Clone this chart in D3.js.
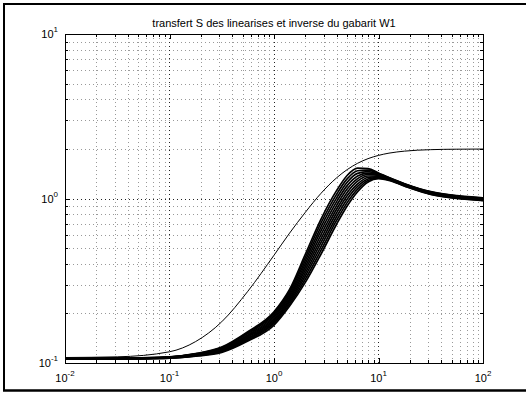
<!DOCTYPE html>
<html><head><meta charset="utf-8">
<script src="https://cdn.jsdelivr.net/npm/d3@7"></script>
<style>
body{margin:0;background:#fff}
svg{display:block}
text{font-family:"Liberation Sans",Arial,Helvetica,sans-serif;fill:#000}
</style>
</head><body>
<svg id="chart" width="526" height="397"></svg>
<script>
// ---------- data ----------
const title = "transfert S des linearises et inverse du gabarit W1";
const xTickValues = [0.01, 0.1, 1, 10, 100];
const xTickExponents = ["-2", "-1", "0", "1", "2"];
const yTickValues = [0.1, 1, 10];
const yTickExponents = ["-1", "0", "1"];

// frequencies (rad/s) shared by all curves
const freqs = [0.01, 0.0316, 0.1, 0.178, 0.316, 0.562, 1, 1.41, 2, 2.82, 3.98, 5.01, 6.31, 7.94, 10, 12.6, 17.8, 31.6, 56.2, 100];

// inverse of the W1 template
const w1Inverse = [0.108, 0.109, 0.117, 0.135, 0.178, 0.273, 0.452, 0.616, 0.826, 1.076, 1.337, 1.498, 1.637, 1.747, 1.828, 1.887, 1.941, 1.981, 1.994, 1.998];

// sensitivity S of the linearised systems
const sCurve0 = [0.1065, 0.1070, 0.1090, 0.1140, 0.125, 0.155, 0.205, 0.280, 0.460, 0.750, 1.120, 1.380, 1.530, 1.520, 1.430, 1.340, 1.230, 1.100, 1.040, 1.010];
const sCurve1 = [0.1064, 0.1069, 0.1088, 0.1136, 0.124, 0.153, 0.201, 0.273, 0.440, 0.710, 1.063, 1.316, 1.475, 1.489, 1.417, 1.334, 1.226, 1.096, 1.036, 1.006];
const sCurve2 = [0.1063, 0.1067, 0.1086, 0.1131, 0.123, 0.151, 0.197, 0.266, 0.421, 0.673, 1.009, 1.255, 1.422, 1.458, 1.405, 1.329, 1.221, 1.091, 1.031, 1.001];
const sCurve3 = [0.1062, 0.1066, 0.1083, 0.1127, 0.122, 0.148, 0.193, 0.259, 0.403, 0.637, 0.958, 1.197, 1.371, 1.428, 1.392, 1.323, 1.217, 1.087, 1.027, 0.997];
const sCurve4 = [0.1061, 0.1065, 0.1081, 0.1122, 0.121, 0.146, 0.189, 0.253, 0.386, 0.603, 0.909, 1.141, 1.321, 1.399, 1.380, 1.318, 1.212, 1.082, 1.022, 0.992];
const sCurve5 = [0.1060, 0.1063, 0.1079, 0.1118, 0.120, 0.144, 0.185, 0.246, 0.370, 0.571, 0.863, 1.088, 1.274, 1.370, 1.368, 1.312, 1.208, 1.078, 1.018, 0.988];
const sCurve6 = [0.1059, 0.1062, 0.1077, 0.1113, 0.119, 0.142, 0.181, 0.240, 0.354, 0.541, 0.819, 1.038, 1.228, 1.342, 1.356, 1.307, 1.203, 1.073, 1.013, 0.983];
const sCurve7 = [0.1058, 0.1061, 0.1075, 0.1109, 0.118, 0.140, 0.177, 0.234, 0.339, 0.512, 0.777, 0.990, 1.184, 1.314, 1.344, 1.301, 1.199, 1.069, 1.009, 0.979];
const sCurve8 = [0.1056, 0.1059, 0.1072, 0.1104, 0.117, 0.138, 0.174, 0.228, 0.324, 0.485, 0.738, 0.944, 1.141, 1.287, 1.332, 1.296, 1.194, 1.064, 1.004, 0.974];
const sCurve9 = [0.1055, 0.1058, 0.1070, 0.1100, 0.116, 0.136, 0.170, 0.222, 0.310, 0.460, 0.700, 0.900, 1.100, 1.260, 1.320, 1.290, 1.190, 1.060, 1.000, 0.970];
const sCurves = [sCurve0, sCurve1, sCurve2, sCurve3, sCurve4, sCurve5, sCurve6, sCurve7, sCurve8, sCurve9];

// ---------- layout ----------
const svg = d3.select("#chart");
const L = 65, R = 483, T = 34, B = 363;

const x = d3.scaleLog().domain([0.01, 100]).range([L, R]);
const y = d3.scaleLog().domain([0.1, 10]).range([B, T]);

// figure frame
svg.append("rect").attr("x", 0).attr("y", 0).attr("width", 526).attr("height", 397).attr("fill", "#fff");
const frame = svg.append("g").attr("stroke", "#000").attr("stroke-width", 2).attr("fill", "none");
frame.append("line").attr("x1", 3).attr("x2", 526).attr("y1", 4).attr("y2", 4);
frame.append("line").attr("x1", 4).attr("x2", 4).attr("y1", 3).attr("y2", 391);
frame.append("line").attr("x1", 3).attr("x2", 526).attr("y1", 390.5).attr("y2", 390.5).attr("stroke-width", 2.5);

// tick value sets
const xMinor = [], yMinor = [];
for (let e = -2; e < 2; e++) for (let m = 2; m <= 9; m++) xMinor.push(m * Math.pow(10, e));
for (let e = -1; e < 1; e++) for (let m = 2; m <= 9; m++) yMinor.push(m * Math.pow(10, e));

// grid
const grid = svg.append("g").attr("fill", "none").attr("stroke-dasharray", "1,3").attr("stroke-width", 1);
const px = v => Math.round(x(v)) + 0.5;
const py = v => Math.round(y(v)) + 0.5;
xMinor.forEach(v => grid.append("line").attr("x1", px(v)).attr("x2", px(v)).attr("y1", T).attr("y2", B).attr("stroke", "#999"));
yMinor.forEach(v => grid.append("line").attr("y1", py(v)).attr("y2", py(v)).attr("x1", L).attr("x2", R).attr("stroke", "#999"));
xTickValues.slice(1, -1).forEach(v => grid.append("line").attr("x1", px(v)).attr("x2", px(v)).attr("y1", T).attr("y2", B).attr("stroke", "#222"));
yTickValues.slice(1, -1).forEach(v => grid.append("line").attr("y1", py(v)).attr("y2", py(v)).attr("x1", L).attr("x2", R).attr("stroke", "#222"));

// curves
svg.append("clipPath").attr("id", "clip").append("rect").attr("x", L).attr("y", T).attr("width", R - L).attr("height", B - T);
const line = d3.line().x(d => x(d[0])).y(d => y(d[1])).curve(d3.curveMonotoneX);
const plot = svg.append("g").attr("clip-path", "url(#clip)").attr("fill", "none").attr("stroke", "#000");
sCurves.forEach(c => plot.append("path").attr("d", line(freqs.map((f, i) => [f, c[i]]))).attr("stroke-width", 1.7));
plot.append("path").attr("d", line(freqs.map((f, i) => [f, w1Inverse[i]]))).attr("stroke-width", 1);

// axes (ticks inside, box)
function axisGroup(axis, tx, ty) {
  const g = svg.append("g").attr("transform", `translate(${tx},${ty})`).call(axis);
  g.selectAll("text").remove();
  g.selectAll("path,line").attr("stroke", "#000").attr("shape-rendering", "crispEdges");
  return g;
}
const noFmt = () => "";
axisGroup(d3.axisBottom(x).tickValues(xTickValues).tickSize(-5).tickSizeOuter(0).tickFormat(noFmt), 0, B);
axisGroup(d3.axisBottom(x).tickValues(xMinor).tickSize(-3).tickSizeOuter(0).tickFormat(noFmt), 0, B);
axisGroup(d3.axisTop(x).tickValues(xTickValues).tickSize(-5).tickSizeOuter(0).tickFormat(noFmt), 0, T);
axisGroup(d3.axisTop(x).tickValues(xMinor).tickSize(-3).tickSizeOuter(0).tickFormat(noFmt), 0, T);
axisGroup(d3.axisLeft(y).tickValues(yTickValues).tickSize(-5).tickSizeOuter(0).tickFormat(noFmt), L, 0);
axisGroup(d3.axisLeft(y).tickValues(yMinor).tickSize(-3).tickSizeOuter(0).tickFormat(noFmt), L, 0);
axisGroup(d3.axisRight(y).tickValues(yTickValues).tickSize(-5).tickSizeOuter(0).tickFormat(noFmt), R, 0);
axisGroup(d3.axisRight(y).tickValues(yMinor).tickSize(-3).tickSizeOuter(0).tickFormat(noFmt), R, 0);

// tick labels
function powLabel(g, xx, yy, exp, anchor) {
  const t = g.append("text").attr("x", xx).attr("y", yy).attr("font-size", 11).attr("text-anchor", anchor);
  t.append("tspan").text("10");
  t.append("tspan").attr("dy", -6).attr("font-size", 8).text(exp);
}
const labels = svg.append("g");
xTickValues.forEach((v, i) => powLabel(labels, x(v), B + 19, xTickExponents[i], "middle"));
yTickValues.forEach((v, i) => powLabel(labels, L - 7, y(v) + 4, yTickExponents[i], "end"));

// title
svg.append("text").attr("x", (L + R) / 2).attr("y", 26.5).attr("text-anchor", "middle").attr("font-size", 11).text(title);
</script>
</body></html>
